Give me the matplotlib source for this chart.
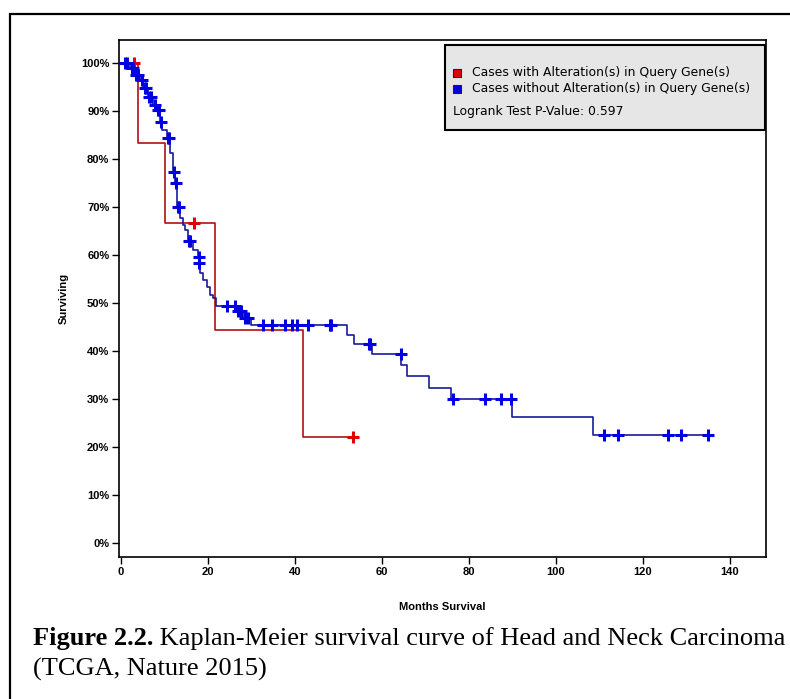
import numpy as np
import matplotlib
matplotlib.use('Agg')
from matplotlib import pyplot as plt
from matplotlib.patches import Rectangle


# altered group (red)
ALT_TIMES = [0, 3.9, 10.1, 21.6, 41.9]
ALT_SURV = [100, 83.3, 66.7, 44.4, 22.2]
ALT_END = 53.4
ALT_CENSOR = [3.0, 16.8, 53.4]

# unaltered group (blue)
UNALT_TIMES = [0, 2.1, 3.2, 4.4, 5.1, 6.2, 7.4, 8.3, 9.0, 9.4, 10.6, 11.3, 12.0,
               12.4, 12.9, 13.4, 13.6, 14.3, 14.7, 15.4, 16.6, 17.7, 18.0, 18.2,
               18.9, 19.8, 20.5, 21.2, 21.9, 26.9, 28.1, 29.9, 52.0, 53.6, 57.8,
               64.5, 65.9, 70.9, 76.0, 90.0, 108.5]
UNALT_SURV = [100, 99, 97.5, 96.5, 94.8, 92.9, 91.3, 90.2, 87.7, 86, 84.4, 81.3,
              77.3, 75, 70, 69, 67.7, 66.3, 65.2, 62.9, 61, 59.6, 58.3, 56.3,
              54.8, 53.3, 51.7, 51, 49.4, 48.3, 46.8, 45.4, 43.4, 41.5, 39.4,
              37.1, 34.8, 32.3, 30.0, 26.3, 22.5]
UNALT_END = 135.0
UNALT_CENSOR = [1.0, 1.5, 2.5, 2.9, 3.5, 4.0, 4.8, 5.5, 5.9, 6.6, 7.0, 7.8, 8.6,
                8.8, 9.2, 10.8, 11.0, 12.2, 12.6, 13.1, 13.3, 15.6, 15.9, 17.9,
                18.1, 24.4, 26.2, 26.9, 27.6, 28.5, 29.2, 32.7, 34.8, 37.8, 39.4,
                40.5, 43.1, 48.0, 48.3, 57.0, 57.3, 64.3, 76.4, 83.8, 87.3, 89.6,
                111.0, 114.4, 125.7, 128.7, 135.0]

X_TICKS = [0, 20, 40, 60, 80, 100, 120, 140]
Y_TICKS = [0, 10, 20, 30, 40, 50, 60, 70, 80, 90, 100]

LEGEND_LABELS = ['Cases with Alteration(s) in Query Gene(s)',
                 'Cases without Alteration(s) in Query Gene(s)']
PVALUE_TEXT = 'Logrank Test P-Value: 0.597'


def surv_at(times, surv, t):
    idx = np.searchsorted(times, t, side='right') - 1
    return np.asarray(surv)[idx]


def draw_curve(ax, times, surv, end, censor, line_color, mark_color):
    xs = list(times) + [end]
    ys = list(surv) + [surv[-1]]
    ax.step(xs, ys, where='post', color=line_color, lw=1.2, zorder=2)
    cy = surv_at(times, surv, censor)
    ax.plot(censor, cy, ls='none', marker='+', ms=8, mew=2.2,
            color=mark_color, zorder=3)


def main():
    fig = plt.figure(figsize=(7.9, 6.99), dpi=100)

    # outer frame
    fig.add_artist(Rectangle((10 / 790, -0.05), 1.0, 1 - 14 / 699 + 0.05,
                             transform=fig.transFigure, fill=False,
                             edgecolor='black', lw=1.6))

    ax = fig.add_axes([119 / 790, 1 - 557 / 699, 647 / 790, 517 / 699])

    draw_curve(ax, ALT_TIMES, ALT_SURV, ALT_END, ALT_CENSOR,
               '#b01010', '#e00000')
    draw_curve(ax, UNALT_TIMES, UNALT_SURV, UNALT_END, UNALT_CENSOR,
               '#1a1a9a', '#0000e0')

    ax.set_xlim(-0.4, 148.3)
    ax.set_ylim(-2.9, 104.8)
    ax.set_xticks(X_TICKS)
    ax.set_yticks(Y_TICKS)
    ax.set_yticklabels([f'{v}%' for v in Y_TICKS])
    for lab in ax.get_xticklabels() + ax.get_yticklabels():
        lab.set_family('Liberation Sans')
        lab.set_fontweight('bold')
        lab.set_fontsize(8)
    ax.tick_params(length=5, width=1, pad=2)
    for s in ax.spines.values():
        s.set_linewidth(1.2)

    ax.set_ylabel('Surviving', family='Liberation Sans', fontweight='bold',
                  fontsize=8, labelpad=9)
    ax.set_xlabel('Months Survival', family='Liberation Sans',
                  fontweight='bold', fontsize=8, labelpad=18)

    # legend box
    ax.add_patch(Rectangle((0.504, 0.826), 0.494, 0.164,
                           transform=ax.transAxes, facecolor='#e6e6e6',
                           edgecolor='black', lw=1.5, zorder=5))
    for i, (lab, col) in enumerate(zip(LEGEND_LABELS, ['#e00000', '#0000e0'])):
        y = 0.937 - i * 0.031
        ax.plot([0.522], [y], marker='s', ms=6, mfc=col, mec='#222222',
                mew=0.8, transform=ax.transAxes, zorder=6, clip_on=False)
        ax.text(0.545, y, lab, transform=ax.transAxes, va='center',
                fontsize=8.9, zorder=6)
    ax.text(0.516, 0.862, PVALUE_TEXT, transform=ax.transAxes, va='center',
            fontsize=8.9, zorder=6)

    # caption
    t1 = fig.text(33 / 790, 1 - 645 / 699, 'Figure 2.2.',
                  family='Liberation Serif', fontweight='bold', fontsize=19)
    ax.annotate(' Kaplan-Meier survival curve of Head and Neck Carcinoma',
                xy=(1, 0), xycoords=t1, va='bottom', ha='left',
                family='Liberation Serif', fontsize=19, annotation_clip=False)
    fig.text(33 / 790, 1 - 676 / 699, '(TCGA, Nature 2015)',
             family='Liberation Serif', fontsize=19)

    fig.savefig('out.png', dpi=100)


if __name__ == '__main__':
    main()
